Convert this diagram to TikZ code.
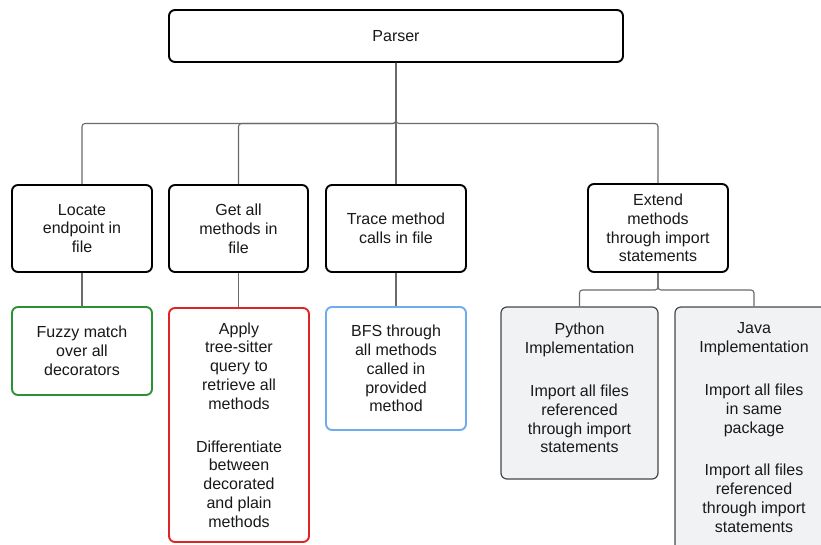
\documentclass[tikz,border=0pt]{standalone}
\usepackage{fontspec}
\setmainfont{Liberation Sans}
\definecolor{panelgray}{HTML}{F1F2F4}
\definecolor{okgreen}{HTML}{2A9230}
\definecolor{errred}{HTML}{E02424}
\definecolor{infoblue}{HTML}{6FABEF}
\begin{document}
\begin{tikzpicture}[x=1pt,y=-1pt,
  box/.style={draw=black, line width=1.9pt, rounded corners=6pt, fill=white,
    inner sep=0pt, align=center, text=black!90,
    font=\fontsize{16}{18.8}\selectfont},
  greenbox/.style={box, draw=okgreen},
  redbox/.style={box, draw=errred},
  bluebox/.style={box, draw=infoblue},
  graybox/.style={box, draw=black!72, line width=1.2pt, fill=panelgray},
  link/.style={draw=black!58, line width=1.1pt, rounded corners=3pt}]
\useasboundingbox (0,0) rectangle (821,544);
\clip (0,0) rectangle (821,544);
\fill[white] (0,0) rectangle (821,544);

% top level
\node[box, minimum width=454pt, minimum height=52pt] (parser) at (396,36) {Parser};

% second row
\node[box, minimum width=140pt, minimum height=87pt] (locate) at (82,228.5)
  {Locate\\endpoint in\\file};
\node[box, minimum width=139pt, minimum height=87pt] (getall) at (238.5,228.5)
  {Get all\\methods in\\file};
\node[box, minimum width=140pt, minimum height=87pt] (trace) at (396,228.5)
  {Trace method\\calls in file};
\node[box, minimum width=140pt, minimum height=88pt] (extend) at (658,228)
  {Extend\\methods\\through import\\statements};

% third row
\node[greenbox, minimum width=140pt, minimum height=88pt] (fuzzy) at (82,351)
  {Fuzzy match\\over all\\decorators};
\node[redbox, minimum width=140pt, minimum height=234pt] (apply) at (239,425)
  {Apply\\tree-sitter\\query to\\retrieve all\\methods\\[24pt]Differentiate\\between\\decorated\\and plain\\methods};
\node[bluebox, minimum width=140pt, minimum height=123pt] (bfs) at (396,368.5)
  {BFS through\\all methods\\called in\\provided\\method};
\node[graybox, minimum width=157pt, minimum height=172pt] (python) at (579.5,393)
  {Python\\Implementation\\[24pt]Import all files\\referenced\\through import\\statements\\[-9pt]\mbox{}};
\node[graybox, minimum width=158pt, minimum height=258pt] (java) at (754,436)
  {Java\\Implementation\\[24pt]Import all files\\in same\\package\\[24pt]Import all files\\referenced\\through import\\statements\\[-2pt]\mbox{}};

% connectors from the parser
\coordinate (bus) at (396,123.5);
\draw[link] (parser.south) -- (bus) -| (locate.north);
\draw[link] (parser.south) -- (bus) -| (getall.north);
\draw[link] (parser.south) -- (trace.north);
\draw[link] (parser.south) -- (bus) -| (extend.north);

% detail connectors
\draw[link] (locate.south) -- (fuzzy.north);
\draw[link] (getall.south) -- (getall.south |- apply.north);
\draw[link] (trace.south) -- (bfs.north);
\coordinate (ebus) at (658,290);
\draw[link] (extend.south) -- (ebus) -| (python.north);
\draw[link] (extend.south) -- (ebus) -| (java.north);
\end{tikzpicture}
\end{document}
